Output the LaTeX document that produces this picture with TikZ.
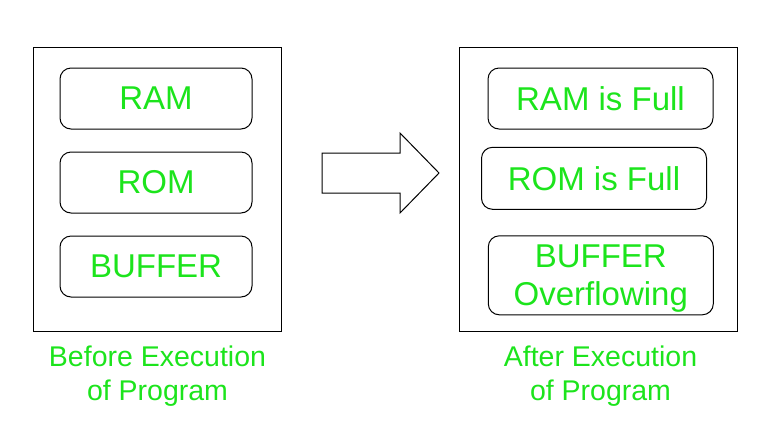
\documentclass[tikz,border=0pt]{standalone}
\usepackage{fontspec}
\setmainfont{Liberation Sans}
\usetikzlibrary{positioning}
\definecolor{memgreen}{RGB}{28,228,28}
\tikzset{
	outerbox/.style={draw,line width=1pt,minimum height=284pt,inner sep=0pt},
	membox/.style={draw,line width=1pt,rounded corners=11pt,minimum width=192pt,minimum height=61pt,inner sep=0pt,
		text=memgreen,align=center,font=\fontsize{33}{38.5}\selectfont},
	caption/.style={text=memgreen,align=center,inner sep=0pt,font=\fontsize{28.5}{34}\selectfont}
}
\begin{document}
\begin{tikzpicture}[x=1pt,y=-1pt]
	\useasboundingbox (0,0) rectangle (762,440);
	% before
	\node[outerbox,minimum width=248pt] (before) at (157,189) {};
	\node[membox] (ram) at (156,98.5) {RAM};
	\node[membox] (rom) at (156,182.5) {ROM};
	\node[membox] (buf) at (156,266.5) {BUFFER};
	\node[caption] (beforecap) at (157.5,376) {Before Execution\\of Program};
	%
	% after
	\node[outerbox,minimum width=278pt] (after) at (598,189) {};
	\node[membox,minimum width=225pt] (ramfull) at (600.5,98.5) {RAM is Full};
	\node[membox,minimum width=225pt,minimum height=62pt] (romfull) at (594,178.3) {ROM is Full};
	\node[membox,minimum width=225pt,minimum height=79pt] (bufover) at (600.8,275.3) {BUFFER\\\smash{Overflowing}};
	\node[caption] (aftercap) at (600.5,376) {After Execution\\of Program};
	%
	% block arrow
	\draw[line width=1pt,line join=miter]
		(322,153) -- (400,153) -- (400,133) -- (439,173) -- (400,213) -- (400,193) -- (322,193) -- cycle;
\end{tikzpicture}
\end{document}
